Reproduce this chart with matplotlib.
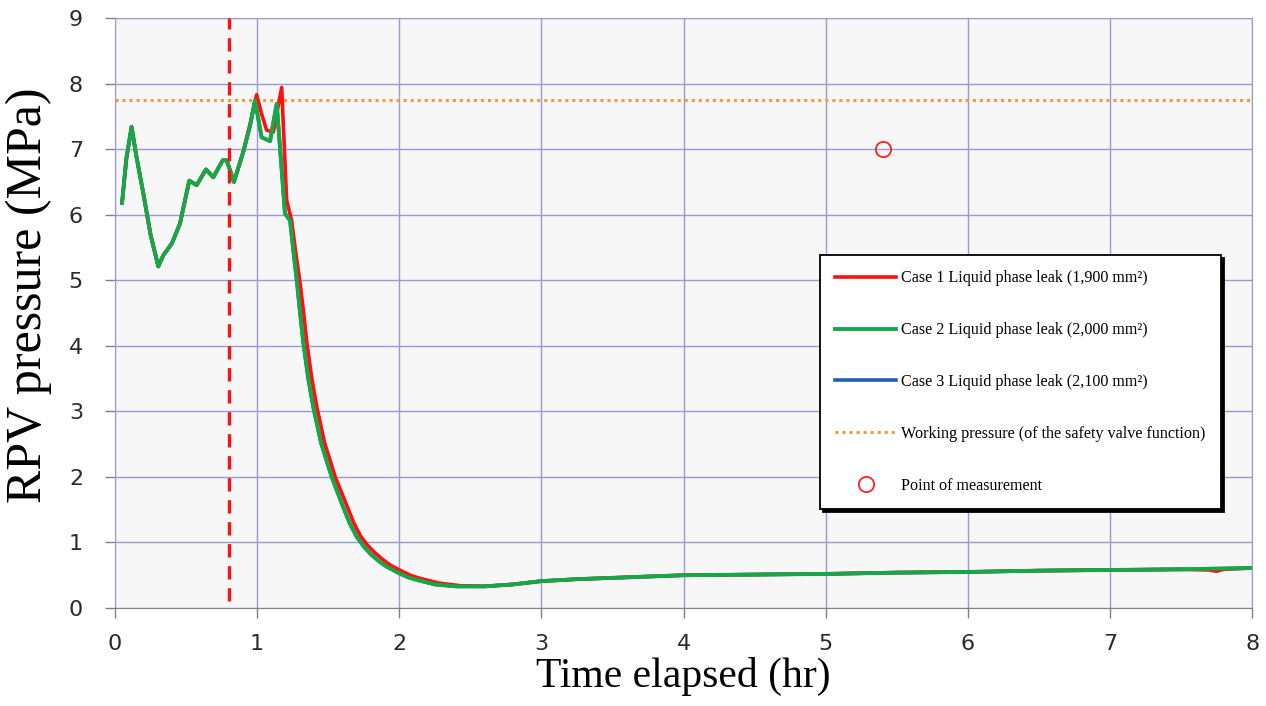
import numpy as np
import matplotlib
matplotlib.use('Agg')
import matplotlib.pyplot as plt

# values
time_case2 = [0.05, 0.08, 0.117, 0.15, 0.2, 0.25, 0.305, 0.34, 0.40, 0.457, 0.523, 0.575,
              0.64, 0.692, 0.758, 0.786, 0.837, 0.903, 0.95, 0.985, 1.032, 1.091, 1.138,
              1.196, 1.232, 1.255, 1.279, 1.30, 1.325, 1.36, 1.395, 1.45, 1.525, 1.6, 1.65,
              1.70, 1.75, 1.8, 1.86, 1.912, 2.0, 2.06, 2.123, 2.25, 2.4, 2.6, 2.8, 3.0, 3.25,
              3.5, 3.75, 4.0, 4.5, 5.0, 5.5, 6.0, 6.5, 7.0, 7.5, 8.0]
pres_case2 = [6.18, 6.85, 7.34, 6.9, 6.32, 5.7, 5.21, 5.38, 5.56, 5.86, 6.52, 6.45,
              6.69, 6.57, 6.83, 6.83, 6.50, 6.96, 7.35, 7.74, 7.18, 7.12, 7.69,
              6.02, 5.91, 5.45, 5.0, 4.55, 4.05, 3.5, 3.07, 2.52, 2.0, 1.57, 1.3,
              1.09, 0.94, 0.82, 0.71, 0.63, 0.53, 0.47, 0.43, 0.36, 0.33, 0.33, 0.36, 0.41, 0.44,
              0.46, 0.48, 0.50, 0.51, 0.52, 0.54, 0.55, 0.57, 0.58, 0.59, 0.61]

time_case1 = [0.05, 0.08, 0.117, 0.15, 0.2, 0.25, 0.305, 0.34, 0.40, 0.457, 0.523, 0.575,
              0.64, 0.692, 0.758, 0.786, 0.837, 0.903, 0.95, 0.997, 1.03, 1.067, 1.114,
              1.173, 1.208, 1.243, 1.27, 1.30, 1.325, 1.35, 1.385, 1.42, 1.475, 1.55, 1.63,
              1.68, 1.73, 1.78, 1.83, 1.89, 1.94, 2.03, 2.09, 2.15, 2.28, 2.43, 2.6, 2.8, 3.0,
              3.25, 3.5, 3.75, 4.0, 4.5, 5.0, 5.5, 6.0, 6.5, 7.0, 7.5, 7.7, 7.75, 7.8, 8.0]
pres_case1 = [6.18, 6.85, 7.34, 6.9, 6.32, 5.7, 5.21, 5.38, 5.56, 5.86, 6.52, 6.45,
              6.69, 6.57, 6.83, 6.83, 6.50, 6.96, 7.38, 7.83, 7.55, 7.29, 7.26,
              7.94, 6.22, 5.91, 5.45, 5.0, 4.55, 4.05, 3.5, 3.07, 2.52, 2.0, 1.57,
              1.3, 1.09, 0.95, 0.84, 0.73, 0.65, 0.55, 0.49, 0.45, 0.38, 0.34, 0.33, 0.36, 0.41,
              0.44, 0.46, 0.48, 0.50, 0.51, 0.52, 0.54, 0.55, 0.57, 0.58, 0.59, 0.58, 0.56, 0.59, 0.61]

# case 3 lies under case 2 in the picture
time_case3 = list(time_case2)
pres_case3 = list(pres_case2)

working_pressure = 7.75
event_time = 0.8
measure_time = [5.4]
measure_pres = [7.0]

labels = ['Case 1 Liquid phase leak (1,900 mm²)',
          'Case 2 Liquid phase leak (2,000 mm²)',
          'Case 3 Liquid phase leak (2,100 mm²)',
          'Working pressure (of the safety valve function)',
          'Point of measurement']

grid_col = '#9a9ad0'

fig = plt.figure(figsize=(12.66, 7.06), dpi=100)
ax = fig.add_axes([0.0908, 0.1388, 0.8982, 0.8357])
ax.set_facecolor('#f7f7f7')

l3, = ax.plot(time_case3, pres_case3, color='#1f5fb4', lw=2.6, zorder=3)
l1, = ax.plot(time_case1, pres_case1, color='#ff1010', lw=2.6, zorder=4)
l2, = ax.plot(time_case2, pres_case2, color='#14a846', lw=2.8, zorder=5)
lw_, = ax.plot([0, 8], [working_pressure, working_pressure], color='#f59a3c',
               lw=2.2, linestyle=(0, (1, 1.3)), zorder=2)
ax.plot([event_time, event_time], [0.1, 9], color='#ff1010', lw=2.4,
        linestyle=(0, (4, 2.6)), zorder=6)
pt, = ax.plot(measure_time, measure_pres, linestyle='none', marker='o', ms=11,
              mfc='none', mec='#ff2020', mew=1.3, zorder=6)

ax.set_xlim(0, 8)
ax.set_ylim(0, 9)
ax.set_xticks(range(0, 9))
ax.set_yticks(range(0, 10))
ax.grid(True, color=grid_col, lw=1.0)
ax.set_axisbelow(True)
for side in ['top', 'right', 'left']:
    ax.spines[side].set_color(grid_col)
ax.spines['bottom'].set_color('#808080')
ax.tick_params(axis='both', direction='out', length=7, width=1, color='#808080',
               labelsize=16, labelcolor='#2a2a2a')
ax.tick_params(axis='x', pad=12)
ax.tick_params(axis='y', pad=16)

ax.set_xlabel('Time elapsed (hr)', family='Liberation Serif', fontsize=30, labelpad=2)
ax.set_ylabel('RPV pressure (MPa)', family='Liberation Serif', fontsize=36)
ax.yaxis.set_label_coords(-0.055, 0.53)

leg = ax.legend([l1, l2, l3, lw_, pt], labels, loc='upper left',
                bbox_to_anchor=(0.62, 0.598), prop={'family': 'Liberation Serif', 'size': 11.6},
                labelspacing=2.22, handlelength=3.8, handletextpad=0.3, borderpad=0.95,
                borderaxespad=0.0, fancybox=False, edgecolor='black', framealpha=1,
                shadow={'color': 'black', 'alpha': 1.0})
leg.get_frame().set_linewidth(1.3)
leg.set_zorder(10)

fig.savefig('out.png', dpi=100)
